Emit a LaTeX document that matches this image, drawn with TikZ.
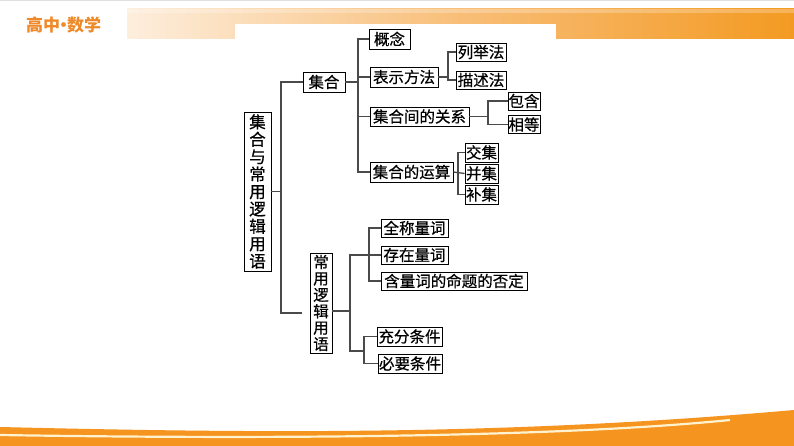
\documentclass[tikz,border=0pt]{standalone}
\usepackage{fontspec}
\newfontfamily\cjk[FakeBold=0.6]{Noto Sans CJK SC}
\newfontfamily\cjkhdr{Noto Sans CJK SC}
\usetikzlibrary{calc}
\definecolor{hdrorange}{HTML}{EE8A2A}
\definecolor{bandL}{HTML}{FDEEDD}
\definecolor{bandM}{HTML}{F8BE78}
\definecolor{bandR}{HTML}{F39A22}
\definecolor{footorange}{HTML}{F5941F}
\definecolor{cream}{HTML}{FFF3CF}
\definecolor{conn}{HTML}{4A4A4A}
\tikzset{
  bx/.style={draw=black, line width=0.8pt, fill=white, inner sep=0pt, font=\cjk\fontsize{15.5}{15.5}\selectfont, text=black},
  vbx/.style={bx, align=center},
  ln/.style={draw=conn, line width=1.3pt}
}
\begin{document}
\begin{tikzpicture}[x=1pt,y=-1pt]
\useasboundingbox (0,0) rectangle (794,446);
\fill[white] (0,0) rectangle (794,446);
% header
\fill[gray!25] (0,0) rectangle (794,1.5);
\shade[left color=bandL, right color=bandR, middle color=bandM] (127,9) rectangle (794,39);
\fill[white,opacity=0.25] (127,9) rectangle (794,13);
\fill[white] (235,24) rectangle (556,40);
\node[font=\cjkhdr\bfseries\fontsize{17}{17}\selectfont, text=hdrorange, anchor=west, inner sep=0pt] (hdr) at (26,25.5) {高中\kern-5pt•\kern-5pt数学};
% footer
\fill[footorange] (0,427) .. controls (250,433) and (500,436) .. (794,410) -- (794,446) -- (0,446) -- cycle;
\draw[cream, line width=2.2pt] (0,435) .. controls (250,439) and (550,438) .. (730,420);
% boxes
\node[vbx, minimum width=27, minimum height=159, font=\cjk\fontsize{16.5}{17.4}\selectfont] (big) at (257.5,191.5) {集\\合\\与\\常\\用\\逻\\辑\\用\\语};
\node[bx, minimum width=42, minimum height=20] (jihe) at (324,82) {集合};
\node[vbx, minimum width=22, minimum height=100, font=\cjk\fontsize{15.5}{16.4}\selectfont] (luoji) at (321,303) {常\\用\\逻\\辑\\用\\语};
\node[bx, minimum width=41, minimum height=20] (gainian) at (389.5,39) {概念};
\node[bx, minimum width=68, minimum height=20] (biaoshi) at (404,77) {表示方法};
\node[bx, minimum width=50, minimum height=18] (liejv) at (481,52) {列举法};
\node[bx, minimum width=50, minimum height=18] (miaoshu) at (481,80) {描述法};
\node[bx, minimum width=99, minimum height=19] (guanxi) at (419.5,116.5) {集合间的关系};
\node[bx, minimum width=32, minimum height=18] (baohan) at (524,101) {包含};
\node[bx, minimum width=32, minimum height=18] (xiangdeng) at (524,124.5) {相等};
\node[bx, minimum width=83, minimum height=20] (yunsuan) at (411.5,172) {集合的运算};
\node[bx, minimum width=33, minimum height=19] (jiao) at (481.5,152.5) {交集};
\node[bx, minimum width=33, minimum height=19] (bing) at (481.5,173.5) {并集};
\node[bx, minimum width=33, minimum height=19] (bu) at (481.5,194.5) {补集};
\node[bx, minimum width=67, minimum height=18] (quancheng) at (414.5,228) {全称量词};
\node[bx, minimum width=67, minimum height=18] (cunzai) at (414.5,255) {存在量词};
\node[bx, minimum width=146, minimum height=18] (hanliang) at (454,281) {含量词的命题的否定};
\node[bx, minimum width=65, minimum height=19] (chongfen) at (409.5,336.5) {充分条件};
\node[bx, minimum width=64, minimum height=19] (biyao) at (410,363.5) {必要条件};
% connector coordinates
\coordinate (trunkbot) at (281,313);
\coordinate (gapend) at (302,313);
\coordinate (A) at (358,0);
\coordinate (B) at (448,0);
\coordinate (C) at (488,0);
\coordinate (D) at (458,0);
\coordinate (E) at (350,351);
\coordinate (F) at (369,0);
\coordinate (G) at (364,351);
% connectors
\draw[ln] (jihe.west) -| (trunkbot) -- (gapend);
\draw[ln] (big.east) -- (big.east -| trunkbot);
\draw[ln] (gainian.west) -| (A |- yunsuan.west) -- (yunsuan.west);
\draw[ln] (jihe.east) -- (jihe.east -| A);
\draw[ln] (biaoshi.west) -- (biaoshi.west -| A);
\draw[ln] (guanxi.west) -- (guanxi.west -| A);
\draw[ln] (liejv.west) -| (B |- miaoshu.west) -- (miaoshu.west);
\draw[ln] (biaoshi.east) -- (biaoshi.east -| B);
\draw[ln] (baohan.west) -| (C |- xiangdeng.west) -- (xiangdeng.west);
\draw[ln] (guanxi.east) -- (guanxi.east -| C);
\draw[ln] (jiao.west) -| (D |- bu.west) -- (bu.west);
\draw[ln] (yunsuan.east) -- (bing.west);
\draw[ln] ([yshift=-8pt]luoji.east) -- ([yshift=-8pt]luoji.east -| E);
\draw[ln] (cunzai.west) -| (E) -- (G);
\draw[ln] (quancheng.west) -| (F |- hanliang.west) -- (hanliang.west);
\draw[ln] (chongfen.west) -| (G |- biyao.west) -- (biyao.west);
\end{tikzpicture}
\end{document}
